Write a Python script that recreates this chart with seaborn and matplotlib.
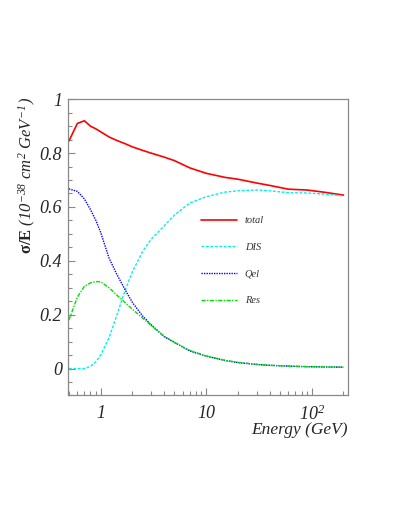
import numpy as np
import pandas as pd
import matplotlib
matplotlib.use("Agg")
import matplotlib.pyplot as plt
import matplotlib.ticker as mticker
import seaborn as sns

sns.set_theme(style="ticks")
plt.rcParams["font.family"] = ["Liberation Serif", "DejaVu Serif"]
plt.rcParams["mathtext.fontset"] = "custom"
plt.rcParams["mathtext.rm"] = "Liberation Serif:italic"
plt.rcParams["mathtext.it"] = "Liberation Serif:italic"
plt.rcParams["mathtext.bf"] = "Liberation Serif:bold"

# energies (GeV) and cross sections sigma/E (1e-38 cm^2 / GeV)
energy = [0.5, 0.6, 0.7, 0.8, 0.9, 1.0, 1.2, 1.4, 1.7, 2.0, 2.5, 3.0, 4.0, 5.0,
          7.0, 10, 15, 20, 30, 40, 60, 90, 130, 200]
total = [0.845, 0.91, 0.92, 0.90, 0.89, 0.879, 0.86, 0.848, 0.835, 0.823, 0.81, 0.80,
         0.785, 0.772, 0.745, 0.725, 0.71, 0.703, 0.689, 0.68, 0.666, 0.663, 0.655, 0.644]
dis = [0.0, 0.0, 0.0, 0.008, 0.025, 0.05, 0.115, 0.19, 0.29, 0.36, 0.435, 0.48,
       0.53, 0.57, 0.615, 0.638, 0.655, 0.66, 0.663, 0.66, 0.653, 0.652, 0.648, 0.641]
qel = [0.667, 0.658, 0.63, 0.59, 0.55, 0.505, 0.41, 0.355, 0.293, 0.245, 0.195, 0.163,
       0.118, 0.097, 0.065, 0.046, 0.03, 0.022, 0.015, 0.012, 0.009, 0.007, 0.006, 0.005]
res = [0.18, 0.265, 0.305, 0.318, 0.323, 0.322, 0.30, 0.275, 0.245, 0.22, 0.187, 0.16,
       0.12, 0.097, 0.067, 0.047, 0.031, 0.023, 0.016, 0.012, 0.009, 0.007, 0.006, 0.005]

series = {"total": total, "DIS": dis, "Qel": qel, "Res": res}
colors = {"total": "#ff0000", "DIS": "#00f0f0", "Qel": "#0000ff", "Res": "#00e000"}
styles = {"total": "-", "DIS": (0, (2, 1.2)), "Qel": (0, (1, 0.8)), "Res": (0, (3, 1, 1, 1))}
widths = {"total": 1.2, "DIS": 1.0, "Qel": 1.0, "Res": 1.0}

fig = plt.figure(figsize=(4.09, 5.29), dpi=100)
ax = fig.add_axes([0.167, 0.2524, 0.683, 0.5600])

for name, vals in series.items():
    df = pd.DataFrame({"E": energy, "v": vals})
    sns.lineplot(data=df, x="E", y="v", ax=ax, color=colors[name], label=name,
                 linestyle=styles[name], linewidth=widths[name])

ax.set_xscale("log")
ax.set_xlim(0.493, 219)
ax.set_ylim(-0.1, 1.0)

ax.xaxis.set_major_locator(mticker.FixedLocator([1, 10, 100]))
ax.xaxis.set_major_formatter(mticker.FixedFormatter(["1", "10", r"$10^{2}$"]))
ax.xaxis.set_minor_locator(mticker.LogLocator(base=10, subs=np.arange(2, 10)))
ax.xaxis.set_minor_formatter(mticker.NullFormatter())
ax.yaxis.set_major_locator(mticker.FixedLocator([0, 0.2, 0.4, 0.6, 0.8, 1.0]))
ax.yaxis.set_major_formatter(mticker.FixedFormatter(["0", "0.2", "0.4", "0.6", "0.8", "1"]))
ax.yaxis.set_minor_locator(mticker.MultipleLocator(0.05))

ax.tick_params(which="both", direction="in", color="#888888")
ax.tick_params(which="major", length=5, width=0.8, pad=4.5, labelsize=13)
ax.tick_params(axis="x", which="major", pad=6.5)
ax.tick_params(which="minor", length=3, width=0.8)
for lab in ax.get_xticklabels() + ax.get_yticklabels():
    lab.set_style("italic")
for sp in ax.spines.values():
    sp.set_color("#888888")
    sp.set_linewidth(0.9)

ax.set_xlabel("Energy (GeV)", fontsize=12.5, style="italic")
ax.xaxis.set_label_coords(1.0, -0.09)
ax.xaxis.label.set_horizontalalignment("right")
ax.set_ylabel(r"$\mathbf{\sigma/E}$ $(10^{-38}\ cm^{2}\ GeV^{-1})$", fontsize=12)
ax.yaxis.set_label_coords(-0.148, 0.744)
ax.yaxis.label.set_verticalalignment("center")

leg = ax.legend(loc="center left", bbox_to_anchor=(0.475, 0.455), frameon=False,
                fontsize=7.5, handlelength=3.5, handletextpad=0.7,
                labelspacing=1.67, borderpad=0, borderaxespad=0)
for t in leg.get_texts():
    t.set_style("italic")
    t.set_color("#333333")

fig.savefig("out.png", dpi=100)
